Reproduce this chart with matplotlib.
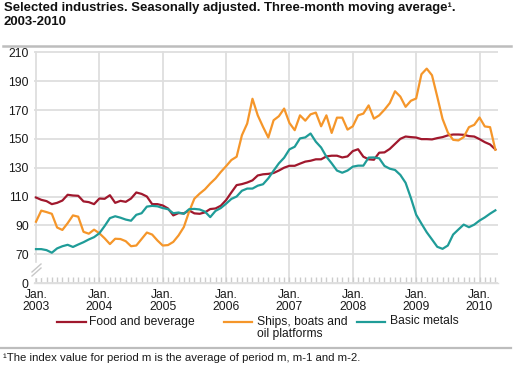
import numpy as np
import matplotlib
matplotlib.use("Agg")
import matplotlib.pyplot as plt
from matplotlib.lines import Line2D

plt.rcParams['font.family'] = ['Liberation Sans', 'DejaVu Sans']

# ---------------- data ----------------
years = [2003, 2004, 2005, 2006, 2007, 2008, 2009, 2010]
tick_labels = [f"Jan.\n{y}" for y in years]
y_ticks = [50, 70, 90, 110, 130, 150, 170, 190, 210]
y_tick_labels = ['0', '70', '90', '110', '130', '150', '170', '190', '210']

food_beverage = [
    109.3, 107.7, 106.8, 104.7, 105.6, 107.2, 111.2, 110.7, 110.5, 106.6, 106.1, 104.7,
    108.6, 108.4, 110.9, 105.6, 107.0, 106.3, 108.6, 112.8, 111.8, 110.0, 104.7, 104.7,
    103.8, 101.7, 96.9, 98.5, 98.3, 100.3, 98.3, 98.0, 99.0, 101.3, 101.7, 103.6,
    107.5, 112.8, 117.9, 118.6, 119.7, 121.2, 124.6, 125.4, 125.7, 126.3, 128.0, 130.0,
    131.3, 131.3, 132.8, 134.2, 134.8, 135.8, 135.8, 137.8, 138.3, 138.3, 137.1, 137.8,
    141.5, 142.8, 137.6, 135.8, 135.5, 140.4, 140.6, 143.0, 146.5, 150.0, 151.6, 151.2,
    150.9, 149.8, 149.8, 149.6, 150.5, 151.2, 152.4, 153.0, 153.0, 152.8, 151.9, 151.6,
    149.8, 147.7, 146.1, 142.7]

ships_boats = [
    92.5, 100.2, 99.2, 98.0, 88.5, 86.8, 91.5, 96.9, 96.0, 85.5, 84.2, 87.0,
    84.5, 81.0, 77.0, 80.7, 80.5, 79.0, 75.5, 76.0, 80.5, 85.0, 83.6, 79.5,
    76.0, 76.3, 78.5, 83.0, 88.8, 99.5, 108.5, 112.0, 115.0, 119.0, 122.5, 127.0,
    131.0, 135.3, 137.6, 152.5, 160.6, 177.8, 166.3, 158.3, 150.9, 162.9, 165.7, 171.0,
    161.0, 156.0, 166.3, 162.6, 167.0, 168.2, 158.7, 166.3, 154.1, 164.7, 164.7, 156.4,
    158.7, 166.3, 167.5, 173.2, 164.0, 166.3, 170.2, 174.8, 183.0, 179.3, 172.2, 176.4,
    178.0, 194.8, 198.7, 194.1, 179.2, 163.8, 154.4, 149.3, 148.9, 151.2, 158.1, 159.7,
    164.8, 158.6, 158.1, 142.4]

basic_metals = [
    73.5, 73.5, 72.8, 71.0, 74.0, 75.5, 76.5, 75.0, 76.7, 78.3, 80.2, 81.8,
    84.5, 89.5, 95.0, 96.3, 95.3, 94.0, 93.2, 97.3, 98.4, 103.0, 103.5, 103.2,
    102.0, 101.2, 98.4, 98.9, 98.0, 101.2, 101.4, 101.0, 99.5, 95.7, 100.0, 102.0,
    105.0, 108.3, 110.0, 114.0, 115.5, 115.5, 117.5, 118.5, 122.6, 127.9, 133.0, 136.9,
    142.7, 144.5, 150.3, 151.0, 153.7, 148.0, 144.0, 137.6, 133.0, 128.0, 126.5, 128.0,
    130.7, 131.4, 131.4, 137.0, 137.1, 136.5, 131.2, 129.3, 128.4, 125.0, 119.5, 109.0,
    97.4, 91.2, 85.2, 80.2, 75.1, 73.7, 76.0, 83.6, 87.1, 90.5, 88.7, 90.5,
    93.3, 95.5, 98.1, 100.4]

series_names = ["Food and beverage", "Ships, boats and\noil platforms", "Basic metals"]
colors = ['#a0182d', '#f5962a', '#1f9c98']

months = np.arange(len(food_beverage))

# ---------------- figure ----------------
W, H = 514, 367
fig = plt.figure(figsize=(W / 100, H / 100), dpi=100)

def fx(px):
    return px / W

def fy(py):
    return 1 - py / H

ax_left, ax_right = 34.4, 498.0
ax_top, ax_bottom = 50.9, 283.0
ax = fig.add_axes([fx(ax_left), fy(ax_bottom), fx(ax_right - ax_left), (ax_bottom - ax_top) / H])

grid_col = '#dedede'
ax.set_xlim(-0.3, 87.5)
ax.set_ylim(50, 211)

for ser, col in zip([food_beverage, ships_boats, basic_metals], colors):
    ax.plot(months, ser, color=col, lw=1.6, solid_joinstyle='round', zorder=3)

ax.set_yticks(y_ticks)
ax.set_yticklabels(y_tick_labels)
ax.set_xticks(np.arange(0, len(food_beverage), 12))
ax.set_xticklabels(tick_labels, linespacing=0.95)
ax.set_xticks(np.arange(0, len(food_beverage)), minor=True)

ax.grid(True, axis='both', color=grid_col, lw=1.3, zorder=0)
ax.set_axisbelow(True)
for s in ['left', 'right', 'top']:
    ax.spines[s].set_visible(False)
ax.spines['bottom'].set_color(grid_col)
ax.spines['bottom'].set_linewidth(1.0)

ax.tick_params(axis='y', length=0, pad=4.0, labelsize=8.7, labelcolor='#1a1a1a')
ax.tick_params(axis='x', which='both', direction='in', length=4, width=1.0,
               color='#cccccc', pad=4.5, labelsize=8.7, labelcolor='#1a1a1a')
ax.tick_params(axis='x', which='minor', length=4)

# axis break on left
fig.patches.append(plt.Rectangle((fx(31), fy(277)), fx(10), 14 / H,
                                 transform=fig.transFigure, color='white', zorder=5))
for off in (0, 4):
    fig.add_artist(Line2D([fx(32), fx(41)], [fy(272 + off), fy(264 + off)],
                          transform=fig.transFigure, color='#c8c8c8', lw=1.0, zorder=6))

# title
fig.text(fx(4), fy(2), "Selected industries. Seasonally adjusted. Three-month moving average¹.\n2003-2010",
         ha='left', va='top', fontsize=9.45, fontweight='bold', linespacing=1.2, color='#111111')
fig.add_artist(Line2D([fx(3), fx(511)], [fy(46), fy(46)], transform=fig.transFigure,
                      color='#bdbdbd', lw=1.8))

# legend (manual)
leg_items = [(57, 86, 89), (224, 252, 257), (357, 385, 390)]
for (x0, x1, tx), name, col in zip(leg_items, series_names, colors):
    fig.add_artist(Line2D([fx(x0), fx(x1)], [fy(322), fy(322)], transform=fig.transFigure,
                          color=col, lw=1.6))
    fig.text(fx(tx), fy(315.5), name, ha='left', va='top', fontsize=8.7,
             linespacing=1.05, color='#1a1a1a')

# footnote
fig.add_artist(Line2D([fx(0), fx(511)], [fy(348), fy(348)], transform=fig.transFigure,
                      color='#bdbdbd', lw=1.6))
fig.text(fx(3), fy(358), "¹The index value for period m is the average of period m, m-1 and m-2.",
         ha='left', va='center', fontsize=8.2, color='#1a1a1a')

fig.savefig("out.png", dpi=100)
